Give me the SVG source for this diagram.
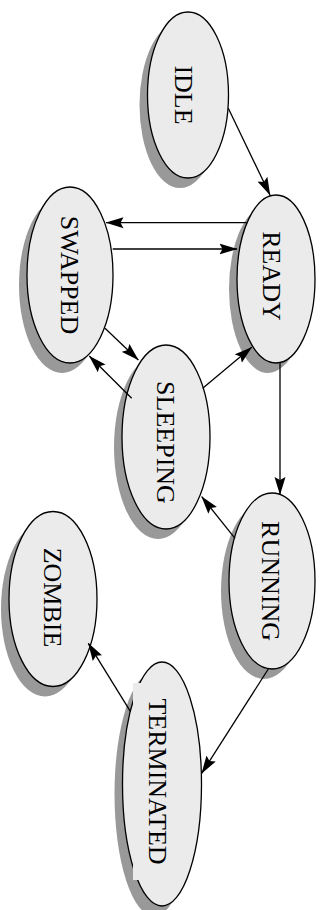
<svg xmlns="http://www.w3.org/2000/svg" width="324" height="910" viewBox="0 0 324 910">
  <style>
    .shadow { fill: #999999; }
    .body { fill: #ebebeb; stroke: #000; stroke-width: 1.3; }
    .label { font-family: "Liberation Serif", "Times New Roman", serif; font-size: 26px; text-anchor: middle; fill: #000; }
    .edge { fill: none; stroke: #000; stroke-width: 1.3; marker-end: url(#arrow); }
  </style>
  <defs>
    <marker id="arrow" markerUnits="userSpaceOnUse" viewBox="0 0 18 12" markerWidth="18" markerHeight="12" refX="17.5" refY="6" orient="auto">
      <path d="M0,0.5 L18,6 L0,11.5 L3,6 Z" fill="#000"/>
    </marker>
  </defs>

  <!-- process states (drawn rotated a quarter turn) -->
  <g id="idle">
    <ellipse class="shadow" cx="180" cy="105" rx="40.5" ry="83"/>
    <ellipse class="body" cx="188" cy="95" rx="40.5" ry="83"/>
    <text class="label" transform="translate(183.3,95) rotate(90)" x="0" y="8.6">IDLE</text>
  </g>
  <g id="ready">
    <ellipse class="shadow" cx="268" cy="289" rx="39" ry="84"/>
    <ellipse class="body" cx="276" cy="279" rx="39" ry="84"/>
    <text class="label" transform="translate(271.7,276) rotate(90)" x="0" y="8.6">READY</text>
  </g>
  <g id="swapped">
    <ellipse class="shadow" cx="62" cy="285" rx="43" ry="88"/>
    <ellipse class="body" cx="70" cy="275" rx="43" ry="88"/>
    <text class="label" transform="translate(70,275) rotate(90)" x="0" y="8.6">SWAPPED</text>
  </g>
  <g id="sleeping">
    <ellipse class="shadow" cx="158" cy="447" rx="44" ry="92"/>
    <ellipse class="body" cx="166" cy="437" rx="44" ry="92"/>
    <text class="label" transform="translate(166,442.5) rotate(90)" x="0" y="8.6">SLEEPING</text>
  </g>
  <g id="running">
    <ellipse class="shadow" cx="264" cy="591" rx="43" ry="88"/>
    <ellipse class="body" cx="272" cy="581" rx="43" ry="88"/>
    <text class="label" transform="translate(271,581) rotate(90)" x="0" y="8.6">RUNNING</text>
  </g>
  <g id="zombie">
    <ellipse class="shadow" cx="45" cy="609" rx="44" ry="87.5"/>
    <ellipse class="body" cx="53" cy="599" rx="44" ry="87.5"/>
    <text class="label" transform="translate(52.5,597.5) rotate(90)" x="0" y="8.6">ZOMBIE</text>
  </g>
  <g id="terminated">
    <ellipse class="shadow" cx="154" cy="794" rx="39.5" ry="122"/>
    <ellipse class="body" cx="162" cy="784" rx="39.5" ry="122"/>
    <rect x="133" y="683" width="47" height="197" fill="#ebebeb"/>
    <text class="label" transform="translate(157.5,781.5) rotate(90)" x="0" y="8.6">TERMINATED</text>
  </g>

  <!-- transitions -->
  <g id="edges">
    <line class="edge" x1="228.3" y1="108.3" x2="270" y2="195"/>
    <line class="edge" x1="246.7" y1="222.7" x2="106" y2="222.7"/>
    <line class="edge" x1="112.7" y1="249" x2="237" y2="249"/>
    <line class="edge" x1="105" y1="328.3" x2="138.3" y2="360"/>
    <line class="edge" x1="131.7" y1="398.3" x2="89.3" y2="356"/>
    <line class="edge" x1="202.7" y1="388.3" x2="251.7" y2="347.3"/>
    <line class="edge" x1="280" y1="363" x2="280" y2="494.5"/>
    <line class="edge" x1="235" y1="538.3" x2="201.7" y2="496.7"/>
    <line class="edge" x1="268.3" y1="669" x2="201.7" y2="773.3"/>
    <line class="edge" x1="130.5" y1="711.7" x2="88.3" y2="643.3"/>
  </g>
</svg>
